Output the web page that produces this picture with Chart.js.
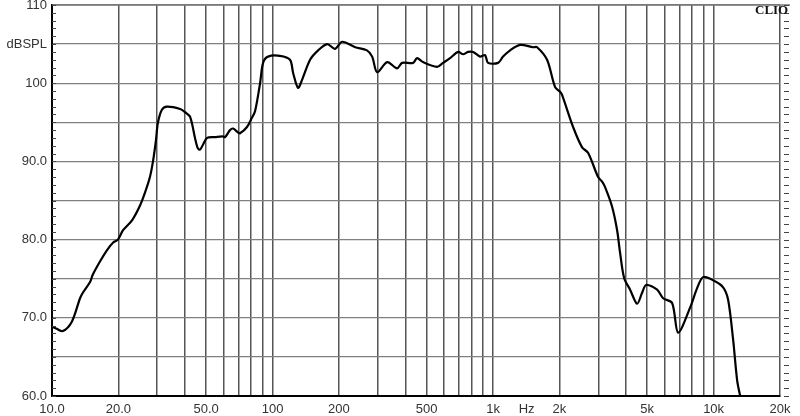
<!DOCTYPE html>
<html><head><meta charset="utf-8">
<script src="https://cdn.jsdelivr.net/npm/chart.js@4/dist/chart.umd.min.js"></script>
<style>html,body{margin:0;padding:0;background:#fff}#wrap{width:800px;height:416px;position:relative}</style>
</head><body><div id="wrap"><canvas id="c"></canvas></div>
<script>
const freqs = [10.0,10.5,11.2,12.3,13.4,13.8,14.9,15.3,16.5,17.8,18.9,19.9,21.0,23.1,25.1,26.4,27.8,28.7,29.6,30.2,31.5,33.2,38.1,40.1,42.3,44.5,45.8,46.9,48.3,50.5,54.8,59.3,60.9,64.2,66.2,69.8,71.2,76.6,80.7,83.3,87.8,90.6,95.4,108,120,124,130.5,136,148,161,177,192,207,237,268,283,298,331,367,387,434,452,481,557,593,638,694,731,770,812,873,920,949,1054,1110,1195,1326,1519,1583,1757,1911,2013,2055,2306,2533,2696,2994,3122,3220,3465,3651,3767,3928,4182,4498,4740,4942,5544,5902,6484,6902,7825,8418,8963,9948,11044,11636,12260,12784,13190];
const spl = [68.9,68.6,68.3,69.5,72.5,73.2,74.6,75.5,77.2,78.7,79.6,80.0,81.2,82.5,84.4,86.0,88.0,90.0,92.7,94.9,96.6,97.0,96.7,96.3,95.7,93.0,91.7,91.5,92.1,93.0,93.1,93.2,93.1,94.0,94.2,93.7,93.6,94.4,95.6,96.4,100.0,102.6,103.4,103.5,103.0,101.3,99.4,100.4,103.0,104.2,105.0,104.4,105.3,104.6,104.2,103.4,101.4,102.7,101.9,102.6,102.6,103.2,102.7,102.1,102.6,103.2,104.0,103.7,104.0,104.0,103.4,103.6,102.6,102.6,103.4,104.2,104.9,104.6,104.6,103.0,99.5,98.9,98.5,94.4,91.8,91.1,88.0,87.4,86.7,84.2,81.2,78.3,75.1,73.6,71.8,73.2,74.2,73.6,72.5,71.9,68.1,71.3,73.8,75.2,74.8,73.9,72.3,67.2,62.0,60.0];

const xGridValues = [10,20,30,40,50,60,70,80,90,100,200,300,400,500,600,700,800,900,1000,2000,3000,4000,5000,6000,7000,8000,9000,10000,20000];
const xLabelValues = [10,20,50,100,200,500,1000,1420,2000,5000,10000,20000];
const xLabelTexts = ['10.0','20.0','50.0','100','200','500','1k','Hz','2k','5k','10k','20k'];
const yGridValues = [60,65,70,75,80,85,90,95,100,105,110];
const yLabelValues = [60,70,80,90,100,105,110];
const yLabelTexts = ['60.0','70.0','80.0','90.0','100','dBSPL','110'];
const yMinorValues = [61,62,63,64,66,67,68,69,71,72,73,74,76,77,78,79,81,82,83,84,86,87,88,89,91,92,93,94,96,97,98,99,101,102,103,104,106,107,108,109];

const FONT = "'Liberation Sans', Arial, sans-serif";

const framePlugin = {
  id: 'frame',
  afterDraw(chart) {
    const {ctx, chartArea: a, scales: {y}} = chart;
    ctx.save();
    ctx.strokeStyle = '#777';
    ctx.lineWidth = 1.5;
    ctx.beginPath();
    ctx.moveTo(a.left, a.top); ctx.lineTo(a.right + 10, a.top);
    ctx.stroke();
    ctx.strokeStyle = '#444';
    ctx.lineWidth = 1;
    const all = yMinorValues.concat(yGridValues);
    all.forEach(v => {
      const py = Math.round(y.getPixelForValue(v)) + 0.5;
      ctx.beginPath();
      ctx.moveTo(a.left, py); ctx.lineTo(a.left + 4, py);
      ctx.moveTo(a.right + 4, py); ctx.lineTo(a.right + 9, py);
      ctx.stroke();
    });
    ctx.fillStyle = '#111';
    ctx.font = "bold 13px 'Liberation Serif', 'Times New Roman', serif";
    ctx.textAlign = 'left';
    ctx.textBaseline = 'middle';
    ctx.fillText('CLIO', a.right - 25, a.top + 6);
    ctx.restore();
  }
};

new Chart(document.getElementById('c'), {
  type: 'line',
  data: {
    datasets: [{
      data: freqs.map((f, i) => ({x: f, y: spl[i]})),
      borderColor: '#000',
      borderWidth: 2.2,
      pointRadius: 0,
      tension: 0.3,
      fill: false
    }]
  },
  options: {
    responsive: true,
    maintainAspectRatio: false,
    animation: false,
    layout: {padding: {top: 5, right: 20, left: 0, bottom: 0}},
    plugins: {legend: {display: false}, tooltip: {enabled: false}},
    scales: {
      x: {
        type: 'logarithmic',
        min: 10, max: 20000,
        afterBuildTicks: s => {
          const vals = Array.from(new Set(xGridValues.concat(xLabelValues))).sort((a, b) => a - b);
          s.ticks = vals.map(v => ({value: v}));
        },
        afterFit: s => { s.height = 20; s.paddingLeft = 0; s.paddingRight = 0; },
        border: {color: '#000', width: 2},
        grid: {
          drawTicks: false,
          color: c => (c.tick && xGridValues.includes(c.tick.value)) ? '#555' : 'rgba(0,0,0,0)',
          lineWidth: 1.5
        },
        ticks: {
          autoSkip: false, maxRotation: 0, padding: 6,
          color: '#333', font: {family: FONT, size: 13},
          callback: v => { const i = xLabelValues.indexOf(v); return i >= 0 ? xLabelTexts[i] : ''; }
        }
      },
      y: {
        min: 60, max: 110,
        afterBuildTicks: s => { s.ticks = yGridValues.map(v => ({value: v})); },
        afterFit: s => { s.width = 52; s.paddingTop = 0; s.paddingBottom = 0; },
        border: {color: '#000', width: 2},
        grid: {drawTicks: false, color: '#808080', lineWidth: 1.2},
        ticks: {
          autoSkip: false, padding: 5,
          color: '#333', font: {family: FONT, size: 13},
          callback: v => { const i = yLabelValues.indexOf(v); return i >= 0 ? yLabelTexts[i] : ''; }
        }
      }
    }
  },
  plugins: [framePlugin]
});
</script></body></html>
